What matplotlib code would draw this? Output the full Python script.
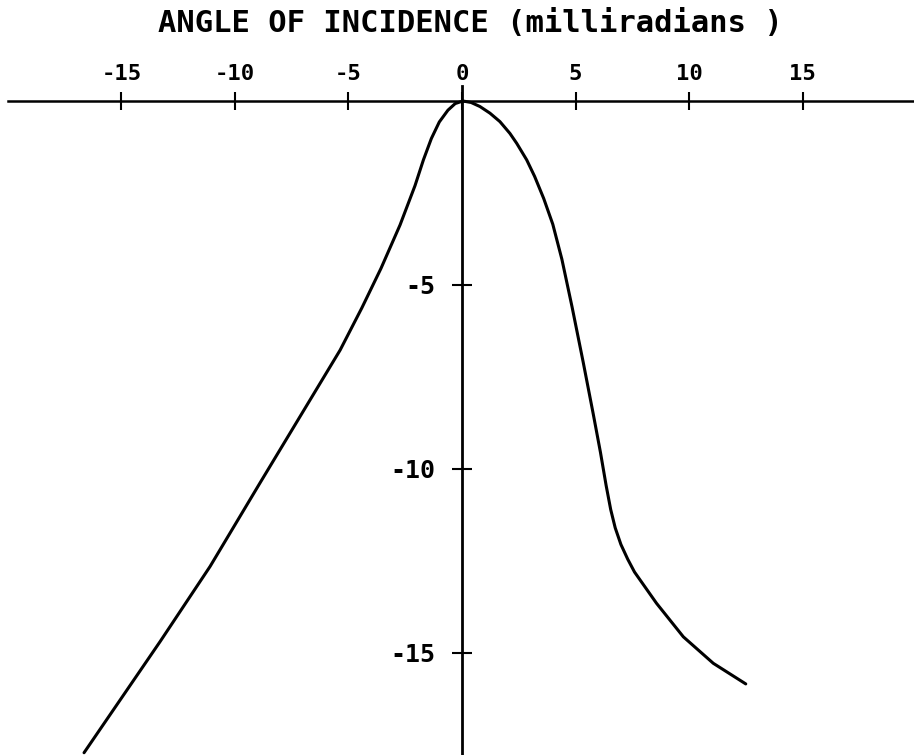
import matplotlib
matplotlib.use("Agg")
import matplotlib.pyplot as plt

plt.rcParams['axes.unicode_minus'] = False

# curve: angle (mrad) vs response
angle = [-16.65, -13.30, -11.10, -8.90, -7.14, -5.37, -4.41, -3.57, -2.73,
         -2.07, -1.70, -1.35, -1.00, -0.62, -0.30, 0.04, 0.40, 0.79, 1.23,
         1.67, 2.11, 2.41, 2.85, 3.20, 3.60, 4.00, 4.40, 4.85, 5.34, 5.78,
         6.10, 6.35, 6.55, 6.75, 7.00, 7.30, 7.60, 8.57, 9.75, 11.07, 12.50]
value = [-17.71, -14.69, -12.65, -10.38, -8.58, -6.77, -5.62, -4.55, -3.37,
         -2.30, -1.60, -1.02, -0.57, -0.25, -0.07, 0.00, -0.04, -0.15, -0.33,
         -0.56, -0.88, -1.15, -1.60, -2.05, -2.65, -3.35, -4.30, -5.60, -7.10,
         -8.50, -9.55, -10.45, -11.10, -11.60, -12.05, -12.45, -12.80, -13.65,
         -14.56, -15.28, -15.84]

x_ticks = [-15, -10, -5, 0, 5, 10, 15]
y_ticks = [-5, -10, -15]
title = "ANGLE OF INCIDENCE (milliradians )"

font = "DejaVu Sans Mono"

fig = plt.figure(figsize=(9.14, 7.55), dpi=100)
ax = fig.add_axes([0, 0, 1, 1])

# pixel layout: x=0 at 462 px, 22.7 px/unit; y=0 at 101 px, 36.8 px/unit
xmin, xmax = -462 / 22.7, (914 - 462) / 22.7
ymax, ymin = 101 / 36.8, -(755 - 101) / 36.8
ax.set_xlim(xmin, xmax)
ax.set_ylim(ymin, ymax)

ax.plot(angle, value, color='black', linewidth=2.2,
        solid_capstyle='round', solid_joinstyle='round')

# axes cross at the origin
for side in ['bottom', 'right']:
    ax.spines[side].set_visible(False)
ax.spines['top'].set_position(('data', 0))
ax.spines['top'].set_bounds(-20, xmax)
ax.spines['top'].set_linewidth(1.8)
ax.spines['left'].set_position(('data', 0))
ax.spines['left'].set_bounds(ymin, 0.41)
ax.spines['left'].set_linewidth(2.0)

ax.xaxis.set_ticks_position('top')
ax.set_xticks(x_ticks)
ax.set_xticklabels([str(t) for t in x_ticks])
ax.tick_params(axis='x', direction='inout', length=13, width=1.5, pad=6,
               labelsize=16)

ax.yaxis.set_ticks_position('left')
ax.set_yticks(y_ticks)
ax.set_yticklabels([str(t) for t in y_ticks])
ax.tick_params(axis='y', direction='inout', length=14, width=1.5, pad=12,
               labelsize=18)

for lab in ax.get_xticklabels() + ax.get_yticklabels():
    lab.set_fontfamily(font)
    lab.set_fontweight('bold')

fig.text(470 / 914, 1 - 23 / 755, title, ha='center', va='center',
         fontsize=22, fontweight='bold', family=font)

fig.savefig("out.png", dpi=100)
